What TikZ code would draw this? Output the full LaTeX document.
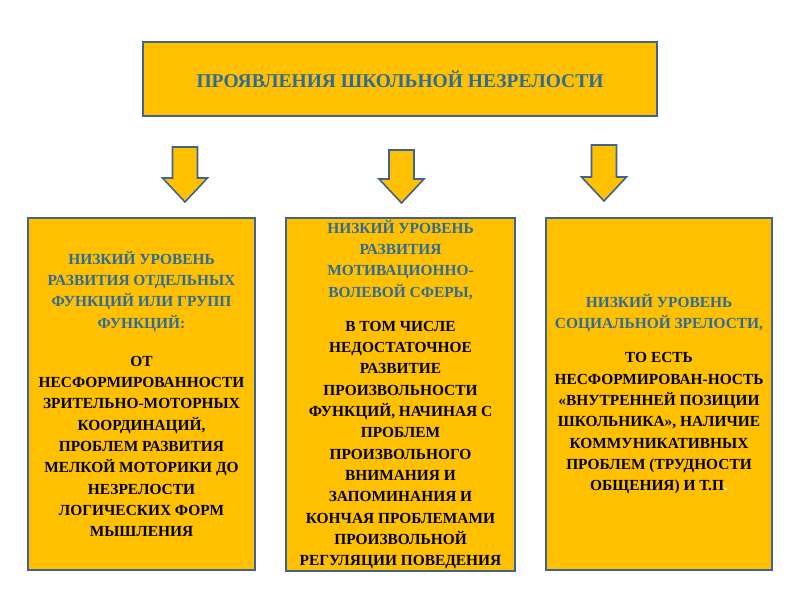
\documentclass[tikz,border=0pt]{standalone}
\usepackage{fontspec}
\setmainfont{Liberation Serif}
\definecolor{gold}{HTML}{FFC000}
\definecolor{edge}{HTML}{41648E}
\definecolor{headblue}{HTML}{2E6B9A}
\newcommand{\hb}[1]{\textcolor{headblue}{#1}}
\tikzset{
  box/.style={draw=edge, line width=1.6bp, fill=gold, align=center, inner sep=0pt,
    font=\bfseries\fontsize{15.4bp}{21.3bp}\selectfont},
  downarrow/.style={draw=edge, line width=1.6bp, fill=gold, line join=miter}
}
\begin{document}
\begin{tikzpicture}[x=1bp,y=1bp]
\useasboundingbox[fill=white] (0,0) rectangle (800,600);
% title box
\node[box, minimum width=514bp, minimum height=74bp,
  font=\bfseries\fontsize{19.5bp}{22bp}\selectfont, text=headblue] (title) at (400,521)
  {ПРОЯВЛЕНИЯ ШКОЛЬНОЙ НЕЗРЕЛОСТИ};
% arrows
\foreach \n/\cx/\top/\tip in {a1/185/453/398, a2/401.5/450/397, a3/604/455/399}{
  \draw[downarrow] (\cx-12.5,\top) -- (\cx+12.5,\top) -- (\cx+12.5,\tip+24)
    -- (\cx+22.5,\tip+24) -- (\cx,\tip) -- (\cx-22.5,\tip+24) -- (\cx-12.5,\tip+24) -- cycle;
}
% boxes
\node[box, minimum width=227bp, minimum height=352bp] (left) at (141.5,206)
  {\hb{НИЗКИЙ УРОВЕНЬ}\\\hb{РАЗВИТИЯ ОТДЕЛЬНЫХ}\\\hb{ФУНКЦИЙ ИЛИ ГРУПП}\\\hb{ФУНКЦИЙ:}\\[17bp]
   ОТ\\НЕСФОРМИРОВАННОСТИ\\ЗРИТЕЛЬНО-МОТОРНЫХ\\КООРДИНАЦИЙ,\\ПРОБЛЕМ РАЗВИТИЯ\\МЕЛКОЙ МОТОРИКИ ДО\\НЕЗРЕЛОСТИ\\ЛОГИЧЕСКИХ ФОРМ\\МЫШЛЕНИЯ};
\node[box, minimum width=229bp, minimum height=353bp] (mid) at (400.5,205.5)
  {\hb{НИЗКИЙ УРОВЕНЬ}\\\hb{РАЗВИТИЯ}\\\hb{МОТИВАЦИОННО-}\\\hb{ВОЛЕВОЙ СФЕРЫ,}\\[13bp]
   В ТОМ ЧИСЛЕ\\НЕДОСТАТОЧНОЕ\\РАЗВИТИЕ\\ПРОИЗВОЛЬНОСТИ\\ФУНКЦИЙ, НАЧИНАЯ С\\ПРОБЛЕМ\\ПРОИЗВОЛЬНОГО\\ВНИМАНИЯ И\\ЗАПОМИНАНИЯ И\\КОНЧАЯ ПРОБЛЕМАМИ\\ПРОИЗВОЛЬНОЙ\\РЕГУЛЯЦИИ ПОВЕДЕНИЯ};
\node[box, minimum width=226bp, minimum height=352bp] (right) at (659,206)
  {\hb{НИЗКИЙ УРОВЕНЬ}\\\hb{СОЦИАЛЬНОЙ ЗРЕЛОСТИ,}\\[13bp]
   ТО ЕСТЬ\\НЕСФОРМИРОВАН-НОСТЬ\\«ВНУТРЕННЕЙ ПОЗИЦИИ\\ШКОЛЬНИКА», НАЛИЧИЕ\\КОММУНИКАТИВНЫХ\\ПРОБЛЕМ (ТРУДНОСТИ\\ОБЩЕНИЯ) И Т.П\textcolor{white}{.}};
\end{tikzpicture}
\end{document}
